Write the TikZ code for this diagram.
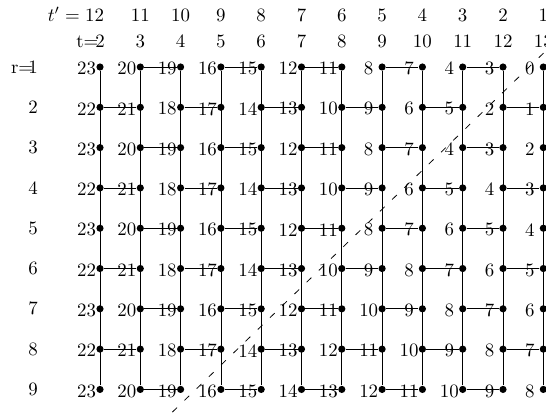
\documentclass[tikz,border=0pt]{standalone}
\usetikzlibrary{positioning}
\tikzset{
    % grid points and their values
    dot/.style  = {circle, fill=black, inner sep=0pt, minimum size=3.8pt},
    val/.style  = {inner sep=0pt, xshift=-7.1pt, yshift=-0.8pt},
    head/.style = {inner sep=0pt},
    % links and the cut
    link/.style = {thin},
    cut/.style  = {thin, dash pattern=on 3.5pt off 5.5pt}
}
\begin{document}
\begin{tikzpicture}[x=0.75cm, y=-0.75cm]
    \useasboundingbox (-1.861cm,1.247cm) rectangle (8.300cm,-6.533cm);

    % column headers t' and t
    \foreach \t [evaluate=\t as \tp using int(14-\t)] in {3,...,13} {
        \node[head, anchor=base] (tp-\t) at (\t-2,-1.14) {\tp};
        \node[head, anchor=base] (tl-\t) at (\t-2,-0.477) {\t};
    }
    \node[head, anchor=base east] (tp-2) at (0.11,-1.14) {$t' = 12$};
    \node[head, anchor=base] (tl-2) at (0,-0.477) {2};
    \node[head, anchor=base east, xshift=2pt] (tname) at (tl-2.base west) {t=};

    % row headers
    \foreach \r in {1,...,9}
        \node[head] (rl-\r) at (-1.663,\r-1) {\r};
    \node[head, anchor=base east, xshift=3pt] (rname) at (rl-1.base west) {r=};

    % grid points with their values
    \foreach \r/\vals in {1/{23,20,19,16,15,12,11,8,7,4,3,0},
                          2/{22,21,18,17,14,13,10,9,6,5,2,1},
                          3/{23,20,19,16,15,12,11,8,7,4,3,2},
                          4/{22,21,18,17,14,13,10,9,6,5,4,3},
                          5/{23,20,19,16,15,12,11,8,7,6,5,4},
                          6/{22,21,18,17,14,13,10,9,8,7,6,5},
                          7/{23,20,19,16,15,12,11,10,9,8,7,6},
                          8/{22,21,18,17,14,13,12,11,10,9,8,7},
                          9/{23,20,19,16,15,14,13,12,11,10,9,8}} {
        \foreach \v [count=\t from 2] in \vals {
            \node[dot] (d-\r-\t) at (\t-2,\r-1) {};
            \node[val] (v-\r-\t) at (d-\r-\t) {\v};
        }
    }

    % vertical links, whole columns
    \foreach \t in {2,...,13}
        \draw[link] (d-1-\t) -- (d-9-\t);

    % horizontal links, odd rows then even rows
    \foreach \r in {1,3,5,7,9}
        \foreach \a/\b in {3/4,5/6,7/8,9/10,11/12}
            \draw[link] (d-\r-\a) -- (d-\r-\b);
    \foreach \r in {2,4,6,8}
        \foreach \a/\b in {2/3,4/5,6/7,8/9,10/11,12/13}
            \draw[link] (d-\r-\a) -- (d-\r-\b);

    % dashed cut
    \coordinate (cutlo) at (1.117cm,-6.644cm);
    \coordinate (cuthi) at (8.413cm,0.413cm);
    \draw[cut] (cutlo) -- (cuthi);
\end{tikzpicture}
\end{document}
